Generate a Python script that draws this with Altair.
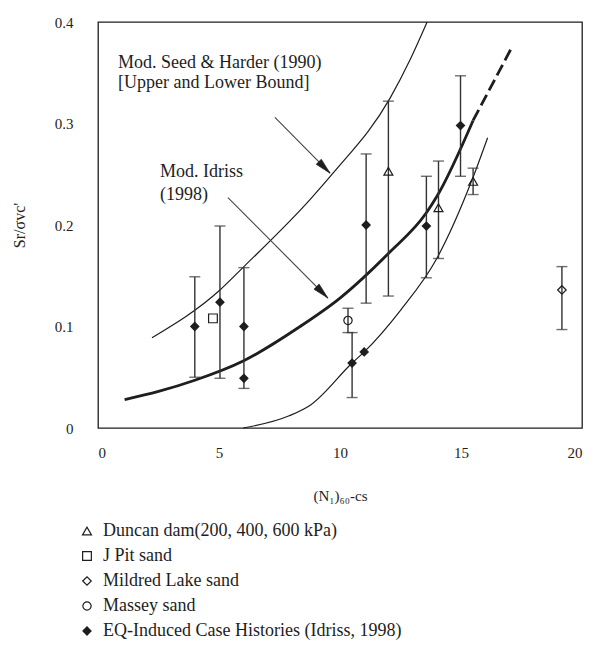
import math
import altair as alt
import pandas as pd

# ---- curves ----
idriss_x = [1.1, 2.5, 4.0, 6.0, 8.35, 10.0, 12.0, 13.57, 14.0, 15.5]
idriss_y = [0.028, 0.036, 0.047, 0.066, 0.100, 0.128, 0.172, 0.212, 0.228, 0.303]
idriss_ext_x = [15.5, 17.1]
idriss_ext_y = [0.303, 0.375]

upper_x = [2.23, 5.04, 6.03, 8.76, 9.71, 12.07, 12.9, 13.6]
upper_y = [0.089, 0.136, 0.159, 0.225, 0.251, 0.325, 0.363, 0.400]

lower_x = [6.0, 7.9, 8.8, 10.5, 11.0, 12.5, 14.0, 15.45, 16.1]
lower_y = [0.0, 0.012, 0.023, 0.064, 0.075, 0.116, 0.167, 0.244, 0.286]

# ---- data points ----
sources = ["Duncan dam(200, 400, 600 kPa)", "J Pit sand", "Mildred Lake sand",
           "Massey sand", "EQ-Induced Case Histories (Idriss, 1998)"]
pt_src = [4, 4, 4, 4, 4, 4, 4, 4, 4, 0, 0, 0, 1, 3, 2]
pt_x = [4.0, 5.04, 6.03, 6.03, 10.5, 11.0, 11.08, 13.57, 14.98, 12.0, 14.07, 15.5, 4.75, 10.33, 19.17]
pt_y = [0.100, 0.124, 0.100, 0.049, 0.064, 0.075, 0.200, 0.199, 0.298, 0.253, 0.217, 0.243, 0.108, 0.106, 0.136]

# ---- error bars ----
eb_x = [4.0, 5.04, 6.03, 10.5, 11.08, 13.57, 14.98, 12.0, 14.07, 15.5, 10.33, 19.17]
eb_lo = [0.050, 0.049, 0.039, 0.030, 0.123, 0.148, 0.248, 0.130, 0.167, 0.230, 0.094, 0.097]
eb_hi = [0.149, 0.199, 0.158, 0.094, 0.270, 0.248, 0.347, 0.322, 0.263, 0.256, 0.118, 0.159]

# ---- annotations ----
ann_text = ["Mod. Seed & Harder (1990)", "[Upper and Lower Bound]", "Mod. Idriss", "(1998)"]
ann_x = [0.83, 0.83, 2.56, 2.56]
ann_y = [0.360, 0.340, 0.252, 0.230]

arrow_x0 = [7.31, 5.37]
arrow_y0 = [0.306, 0.227]
arrow_x1 = [9.59, 9.50]
arrow_y1 = [0.251, 0.128]

W, H = 484, 406
XMAX, YMAX = 20, 0.4
SERIF = "Liberation Serif"
INK = "#1e1e1e"

xs = alt.Scale(domain=[0, XMAX], nice=False)
ys = alt.Scale(domain=[0, YMAX], nice=False)
xaxis = alt.Axis(title="(N₁)₆₀-cs", values=[0, 5, 10, 15, 20], grid=False, domain=False,
                 ticks=False, labelFont=SERIF, labelFontSize=15, labelColor=INK,
                 labelPadding=17, titleFont=SERIF, titleFontSize=15, titleFontWeight="normal",
                 titleColor=INK, titleY=60, titleBaseline="top")
yaxis = alt.Axis(title="Sr/σvc'", values=[0, 0.1, 0.2, 0.3, 0.4], grid=False, domain=False,
                 ticks=False, labelFont=SERIF, labelFontSize=15, labelColor=INK,
                 labelPadding=25,
                 labelExpr="datum.value == 0 ? '0' : format(datum.value, '.1f')",
                 titleFont=SERIF, titleFontSize=16, titleFontWeight="normal", titleColor=INK,
                 titleX=-71, titleY=H / 2, titleAngle=270, titleBaseline="bottom")


def X(field):
    return alt.X(f"{field}:Q", scale=xs, axis=xaxis)


def Y(field):
    return alt.Y(f"{field}:Q", scale=ys, axis=yaxis)


upper_df = pd.DataFrame({"x": upper_x, "y": upper_y})
lower_df = pd.DataFrame({"x": lower_x, "y": lower_y})
idriss_df = pd.DataFrame({"x": idriss_x, "y": idriss_y})
ext_df = pd.DataFrame({"x": idriss_ext_x, "y": idriss_ext_y})

upper = alt.Chart(upper_df).mark_line(color=INK, strokeWidth=1.2, interpolate="monotone").encode(x=X("x"), y=Y("y"))
lower = alt.Chart(lower_df).mark_line(color=INK, strokeWidth=1.2, interpolate="monotone").encode(x=X("x"), y=Y("y"))
idriss = alt.Chart(idriss_df).mark_line(color=INK, strokeWidth=2.8, interpolate="monotone").encode(x=X("x"), y=Y("y"))
ext = alt.Chart(ext_df).mark_line(color=INK, strokeWidth=2.8, strokeDash=[12, 5]).encode(x=X("x"), y=Y("y"))

eb_df = pd.DataFrame({"x": eb_x, "lo": eb_lo, "hi": eb_hi})
bars = alt.Chart(eb_df).mark_rule(color="#333", strokeWidth=1.4).encode(x=X("x"), y=Y("lo"), y2="hi:Q")
cap_lo = alt.Chart(eb_df).mark_tick(color="#333", thickness=1.4, size=11, orient="horizontal").encode(x=X("x"), y=Y("lo"))
cap_hi = alt.Chart(eb_df).mark_tick(color="#333", thickness=1.4, size=11, orient="horizontal").encode(x=X("x"), y=Y("hi"))

pt_df = pd.DataFrame({"src": [sources[i] for i in pt_src], "x": pt_x, "y": pt_y})
legend = alt.Legend(title=None, orient="none", legendX=-20, legendY=500, padding=0,
                    labelFont=SERIF, labelFontSize=18, labelColor=INK, labelLimit=500,
                    labelOffset=7, rowPadding=7, symbolStrokeWidth=1.2, symbolOpacity=1)
points = alt.Chart(pt_df).mark_point(strokeWidth=1.2, opacity=1).encode(
    x=X("x"), y=Y("y"),
    shape=alt.Shape("src:N", scale=alt.Scale(domain=sources,
                    range=["triangle-up", "square", "diamond", "circle", "diamond"]), legend=legend),
    fill=alt.Fill("src:N", scale=alt.Scale(domain=sources,
                  range=["transparent", "transparent", "transparent", "transparent", INK]), legend=legend),
    stroke=alt.Stroke("src:N", scale=alt.Scale(domain=sources, range=[INK] * 5), legend=legend),
    size=alt.Size("src:N", scale=alt.Scale(domain=sources, range=[80, 65, 45, 55, 60]), legend=legend),
)

ann_df = pd.DataFrame({"t": ann_text, "x": ann_x, "y": ann_y})
ann = alt.Chart(ann_df).mark_text(font=SERIF, fontSize=18, color=INK, align="left", baseline="middle").encode(
    x=X("x"), y=Y("y"), text="t:N")

# arrowhead rotation: clockwise degrees from "up", from on-screen direction of each arrow
sx, sy = W / XMAX, H / YMAX
angles = [math.degrees(math.atan2((x1 - x0) * sx, (y1 - y0) * sy))
          for x0, y0, x1, y1 in zip(arrow_x0, arrow_y0, arrow_x1, arrow_y1)]
arr_df = pd.DataFrame({"x0": arrow_x0, "y0": arrow_y0, "x1": arrow_x1, "y1": arrow_y1, "ang": angles})
arr_line = alt.Chart(arr_df).mark_rule(color="#444", strokeWidth=1.1).encode(
    x=X("x0"), y=Y("y0"), x2="x1:Q", y2="y1:Q")
arr_head = alt.Chart(arr_df).mark_point(shape="M0,0L0.45,2L-0.45,2Z", filled=True, fill=INK,
                                        stroke=INK, strokeWidth=0.6, size=260, opacity=1).encode(
    x=X("x1"), y=Y("y1"), angle=alt.Angle("ang:Q", scale=None))

chart = alt.layer(upper, lower, idriss, ext, arr_line, arr_head, bars, cap_lo, cap_hi, points, ann).properties(
    width=W, height=H,
    autosize=alt.AutoSizeParams(type="none"),
    padding={"left": 90, "top": 14, "right": 15, "bottom": 215},
    background="white",
).configure_view(stroke=INK, strokeWidth=1.3)

chart.save("out.html", embed_options={"renderer": "svg", "actions": False})
